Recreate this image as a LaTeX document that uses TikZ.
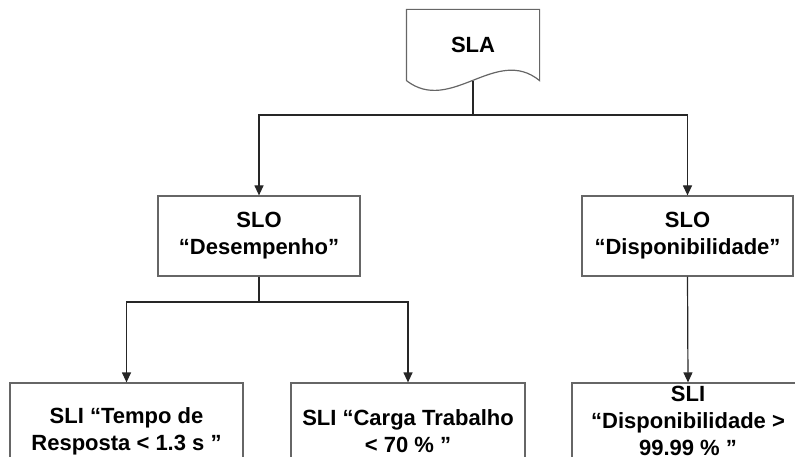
\documentclass[tikz,border=0pt]{standalone}
\usepackage{fontspec}
\setmainfont{Liberation Sans}
\usetikzlibrary{arrows.meta}

\begin{document}
\begin{tikzpicture}[x=1pt,y=-1pt,
  box/.style={draw=black!60,line width=1.2pt,fill=white,align=center,inner sep=0pt,
    font=\fontsize{22}{27}\selectfont\bfseries},
  doc/.style={draw=black!60,line width=1.2pt},
  link/.style={draw=black!85,line width=1.2pt},
  arr/.style={link,-{Triangle[length=10pt,width=9pt]}}]
\useasboundingbox (0,0) rectangle (795,457);
\clip (0,0) rectangle (795,457);
\node[box,draw=none,fill=none,minimum width=132,minimum height=70](sla) at(473,45){SLA};
\draw[doc] (sla.south west) -- (sla.north west) -- (sla.north east) -- (sla.south east)
  .. controls (496,45) and (451,115) .. (sla.south west);
\node[box,minimum width=202,minimum height=80](slo1) at(259,236){SLO\\“Desempenho”};
\node[box,minimum width=211,minimum height=80](slo2) at(687.5,236){SLO\\“Disponibilidade”};
\node[box,minimum width=233,minimum height=96](sli1) at(126.5,431){SLI “Tempo de\\Resposta < 1.3 s ”};
\node[box,minimum width=234,minimum height=96](sli2) at(408,431){SLI “Carga Trabalho\\< 70 \% ”};
\node[box,minimum width=232,minimum height=90](sli3) at(688,428){};
\node[box,draw=none,fill=none,anchor=north](sli3txt) at([yshift=-3]sli3.north){SLI\\“Disponibilidade >\\99.99 \% ”};
\coordinate (bus1) at (473,115);
\coordinate (bus2) at (259,302);
\draw[link](sla.south)--(bus1);
\draw[arr](bus1)-|(slo1.north);
\draw[arr](bus1)-|(slo2.north);
\draw[link](slo1.south)--(bus2);
\draw[arr](bus2)-|(sli1.north);
\draw[arr](bus2)-|(sli2.north);
\draw[arr](slo2.south)--(sli3.north);
\end{tikzpicture}
\end{document}
